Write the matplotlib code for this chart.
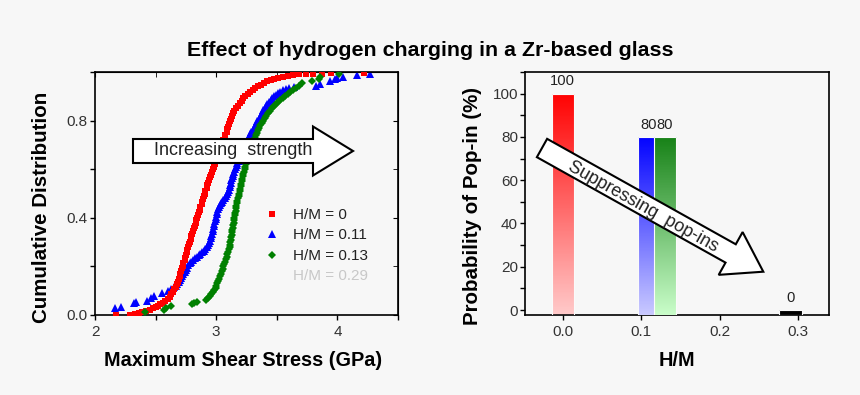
import matplotlib
matplotlib.use("Agg")
import matplotlib.pyplot as plt
import numpy as np
from matplotlib.lines import Line2D
from matplotlib.patches import FancyArrow
from matplotlib.ticker import MultipleLocator

plt.rcParams['font.family'] = ['Liberation Sans', 'DejaVu Sans']

# cumulative distributions: (stress GPa, cumulative fraction)
red_points = [
    (2.17, 0.0), (2.29, 0.0), (2.33, 0.004), (2.36, 0.008), (2.39, 0.012), (2.42, 0.016),
    (2.45, 0.021), (2.48, 0.027), (2.50, 0.032), (2.52, 0.038), (2.54, 0.044), (2.56, 0.051),
    (2.58, 0.059), (2.60, 0.067), (2.615, 0.076), (2.63, 0.085), (2.645, 0.095), (2.655, 0.105),
    (2.665, 0.115), (2.675, 0.126), (2.685, 0.137), (2.69, 0.148), (2.70, 0.159), (2.705, 0.170),
    (2.71, 0.181), (2.72, 0.192), (2.725, 0.203), (2.73, 0.214), (2.74, 0.225), (2.745, 0.236),
    (2.75, 0.247), (2.755, 0.258), (2.76, 0.269), (2.77, 0.280), (2.775, 0.291), (2.78, 0.302),
    (2.79, 0.313), (2.795, 0.324), (2.80, 0.335), (2.81, 0.346), (2.815, 0.357), (2.825, 0.368),
    (2.83, 0.379), (2.835, 0.390), (2.845, 0.401), (2.85, 0.412), (2.86, 0.423), (2.865, 0.434),
    (2.87, 0.445), (2.88, 0.456), (2.885, 0.467), (2.89, 0.478), (2.90, 0.489), (2.905, 0.500),
    (2.91, 0.511), (2.92, 0.522), (2.925, 0.533), (2.935, 0.544), (2.94, 0.555), (2.95, 0.566),
    (2.96, 0.577), (2.965, 0.588), (2.975, 0.599), (2.985, 0.610), (2.99, 0.621), (3.00, 0.632),
    (3.01, 0.643), (3.015, 0.654), (3.025, 0.665), (3.03, 0.676), (3.04, 0.687), (3.045, 0.698),
    (3.055, 0.709), (3.06, 0.720), (3.07, 0.731), (3.075, 0.742), (3.085, 0.753), (3.09, 0.764),
    (3.10, 0.775), (3.105, 0.786), (3.11, 0.797), (3.12, 0.808), (3.13, 0.819), (3.14, 0.830),
    (3.15, 0.841), (3.165, 0.852), (3.18, 0.862), (3.195, 0.872), (3.21, 0.882), (3.225, 0.891),
    (3.24, 0.900), (3.26, 0.909), (3.28, 0.918), (3.30, 0.926), (3.32, 0.934), (3.345, 0.941),
    (3.37, 0.948), (3.395, 0.955), (3.42, 0.961), (3.45, 0.967), (3.48, 0.972), (3.51, 0.977),
    (3.55, 0.981), (3.59, 0.985), (3.63, 0.988), (3.68, 0.990), (3.74, 0.991), (3.80, 0.992),
    (3.87, 0.993), (3.95, 0.994), (4.22, 0.996)]

blue_points = [
    (2.165, 0.027), (2.215, 0.034), (2.32, 0.048), (2.335, 0.055), (2.43, 0.059), (2.46, 0.068),
    (2.49, 0.080), (2.55, 0.092), (2.60, 0.100), (2.63, 0.108), (2.65, 0.114), (2.665, 0.121),
    (2.68, 0.129), (2.69, 0.137), (2.70, 0.145), (2.71, 0.153), (2.72, 0.161), (2.73, 0.169),
    (2.74, 0.177), (2.75, 0.186), (2.76, 0.195), (2.77, 0.204), (2.78, 0.212), (2.795, 0.219),
    (2.81, 0.226), (2.825, 0.233), (2.84, 0.240), (2.855, 0.246), (2.87, 0.252), (2.885, 0.258),
    (2.90, 0.265), (2.91, 0.272), (2.92, 0.280), (2.93, 0.288), (2.94, 0.297), (2.948, 0.306),
    (2.955, 0.315), (2.96, 0.325), (2.965, 0.335), (2.97, 0.345), (2.975, 0.355), (2.98, 0.365),
    (2.985, 0.375), (2.99, 0.385), (2.995, 0.395), (3.00, 0.405), (3.005, 0.415), (3.01, 0.425),
    (3.015, 0.435), (3.02, 0.444), (3.03, 0.452), (3.04, 0.460), (3.05, 0.467), (3.06, 0.474),
    (3.07, 0.481), (3.08, 0.489), (3.09, 0.497), (3.10, 0.506), (3.105, 0.516), (3.11, 0.527),
    (3.115, 0.536), (3.12, 0.545), (3.125, 0.554), (3.13, 0.563), (3.135, 0.572), (3.14, 0.581),
    (3.15, 0.590), (3.155, 0.599), (3.16, 0.608), (3.17, 0.617), (3.175, 0.626), (3.185, 0.635),
    (3.19, 0.644), (3.20, 0.653), (3.205, 0.662), (3.215, 0.671), (3.22, 0.680), (3.23, 0.689),
    (3.235, 0.698), (3.245, 0.707), (3.25, 0.716), (3.26, 0.725), (3.27, 0.734), (3.28, 0.743),
    (3.29, 0.752), (3.30, 0.761), (3.31, 0.770), (3.32, 0.779), (3.33, 0.788), (3.34, 0.797),
    (3.35, 0.806), (3.36, 0.815), (3.37, 0.824), (3.38, 0.833), (3.39, 0.842), (3.40, 0.851),
    (3.41, 0.860), (3.42, 0.868), (3.435, 0.876), (3.45, 0.884), (3.46, 0.892), (3.475, 0.900),
    (3.49, 0.907), (3.51, 0.913), (3.53, 0.919), (3.55, 0.925), (3.575, 0.930), (3.60, 0.935),
    (3.64, 0.940), (3.82, 0.944), (3.86, 0.950), (3.94, 0.962), (3.98, 0.971), (4.00, 0.977),
    (4.05, 0.980), (4.16, 0.986), (4.27, 0.991)]

green_points = [
    (2.41, 0.014), (2.57, 0.022), (2.585, 0.028), (2.63, 0.037), (2.80, 0.044), (2.82, 0.048),
    (2.84, 0.053), (2.915, 0.062), (2.93, 0.070), (2.945, 0.078), (2.96, 0.086), (2.975, 0.094),
    (2.985, 0.102), (2.995, 0.111), (3.00, 0.120), (3.008, 0.130), (3.015, 0.140), (3.022, 0.150),
    (3.03, 0.160), (3.038, 0.170), (3.045, 0.180), (3.052, 0.190), (3.06, 0.200), (3.067, 0.210),
    (3.073, 0.220), (3.08, 0.230), (3.087, 0.240), (3.093, 0.250), (3.10, 0.260), (3.105, 0.270),
    (3.11, 0.280), (3.113, 0.290), (3.117, 0.300), (3.12, 0.310), (3.123, 0.320), (3.127, 0.330),
    (3.13, 0.340), (3.133, 0.350), (3.137, 0.360), (3.14, 0.370), (3.143, 0.380), (3.147, 0.390),
    (3.15, 0.400), (3.153, 0.410), (3.157, 0.420), (3.16, 0.430), (3.163, 0.440), (3.167, 0.450),
    (3.17, 0.460), (3.175, 0.470), (3.18, 0.480), (3.185, 0.490), (3.19, 0.500), (3.195, 0.510),
    (3.20, 0.520), (3.203, 0.530), (3.207, 0.540), (3.21, 0.550), (3.215, 0.560), (3.22, 0.570),
    (3.225, 0.580), (3.23, 0.590), (3.235, 0.600), (3.24, 0.610), (3.245, 0.620), (3.25, 0.630),
    (3.255, 0.640), (3.26, 0.650), (3.265, 0.660), (3.27, 0.670), (3.278, 0.680), (3.285, 0.690),
    (3.293, 0.700), (3.30, 0.710), (3.31, 0.720), (3.318, 0.730), (3.327, 0.740), (3.335, 0.750),
    (3.345, 0.760), (3.355, 0.770), (3.365, 0.780), (3.375, 0.790), (3.39, 0.800), (3.40, 0.810),
    (3.415, 0.820), (3.43, 0.830), (3.445, 0.840), (3.46, 0.850), (3.475, 0.860), (3.49, 0.868),
    (3.51, 0.876), (3.53, 0.884), (3.55, 0.892), (3.57, 0.900), (3.59, 0.908), (3.61, 0.916),
    (3.635, 0.925), (3.66, 0.934), (3.685, 0.943), (3.71, 0.953), (3.79, 0.961), (3.85, 0.970),
    (3.86, 0.980), (4.01, 0.990)]

legend_labels = ['H/M = 0', 'H/M = 0.11', 'H/M = 0.13', 'H/M = 0.29']

# right panel: pop-in probability per hydrogen content
hm_values = [0.0, 0.11, 0.13, 0.29]
popin_prob = [100, 80, 80, 0]

BG = '#f7f7f7'
TXT = '#222222'
top_colors = [(1.0, 0.0, 0.0), (0.0, 0.0, 1.0), (0.08, 0.5, 0.08), (0.0, 0.0, 0.0)]
bottom_colors = [(1.0, 0.80, 0.80), (0.80, 0.80, 1.0), (0.80, 1.0, 0.80), (0.0, 0.0, 0.0)]

fig = plt.figure(figsize=(8.6, 3.95), dpi=100, facecolor=BG)
ax1 = fig.add_axes([95 / 860, 80 / 395, 303 / 860, 243 / 395], facecolor=BG)
ax2 = fig.add_axes([525 / 860, 80 / 395, 304 / 860, 243 / 395], facecolor=BG)

fig.text(0.5, (395 - 50) / 395, 'Effect of hydrogen charging in a Zr-based glass',
         ha='center', va='center', fontsize=15.4, fontweight='bold', color='black')

# ---- left panel
series = [(red_points, 's', 'red', 4.4, 3), (blue_points, '^', 'blue', 5.4, 2),
          (green_points, 'D', 'green', 4.2, 4)]
for pts, mk, col, ms, z in series:
    xs, ys = zip(*pts)
    ax1.plot(xs, ys, mk, color=col, ms=ms, mew=0, zorder=z)
ax1.set_xlim(2, 4.5)
ax1.set_ylim(0, 1.0)
ax1.set_xticks([2, 3, 4])
ax1.xaxis.set_minor_locator(MultipleLocator(0.5))
ax1.set_yticks([0.0, 0.4, 0.8])
ax1.yaxis.set_minor_locator(MultipleLocator(0.2))
ax1.set_yticklabels(['0.0', '0.4', '0.8'])
ax1.tick_params(which='both', direction='out', length=3.5, width=1, labelsize=11,
                labelcolor='#333333', top=False, right=False)
ax1.tick_params(axis='y', pad=2)
sec_top = ax1.secondary_xaxis('top')
sec_top.set_xticks([2, 3, 4])
sec_top.xaxis.set_minor_locator(MultipleLocator(0.5))
sec_top.tick_params(which='both', direction='in', length=3.5, labeltop=False)
sec_right = ax1.secondary_yaxis('right')
sec_right.set_yticks([0.0, 0.4, 0.8])
sec_right.yaxis.set_minor_locator(MultipleLocator(0.2))
sec_right.tick_params(which='both', direction='in', length=3.5, labelright=False)

ax1.set_xlabel('Maximum Shear Stress (GPa)', fontsize=14.3, fontweight='bold')
ax1.set_ylabel('Cumulative Distribution', fontsize=14.8, fontweight='bold')
ax1.xaxis.set_label_coords(0.49, -0.15)
ax1.yaxis.set_label_coords(-0.144, 0.442)

handles = [Line2D([], [], ls='none', marker='s', color='red', ms=4.5, mew=0),
           Line2D([], [], ls='none', marker='^', color='blue', ms=5.5, mew=0),
           Line2D([], [], ls='none', marker='D', color='green', ms=4.2, mew=0),
           Line2D([], [], ls='none', marker=None)]
leg = ax1.legend(handles, legend_labels, loc='upper left', bbox_to_anchor=(0.558, 0.44),
                 frameon=False, fontsize=11, handlelength=1.0, handletextpad=0.92,
                 labelspacing=0.42, borderpad=0, borderaxespad=0)
for t, c in zip(leg.get_texts(), [TXT, TXT, TXT, '#c8c8c8']):
    t.set_color(c)

# ---- right panel
base = -2.3
ax2.set_xlim(-0.048, 0.339)
ax2.set_ylim(base, 110)
bars = ax2.bar(hm_values, np.array(popin_prob) - base, bottom=base, width=0.0285,
               facecolor='none', edgecolor='#fafafa', linewidth=0.8)
grad = np.linspace(0, 1, 256)[:, None, None]
for i, (bar, c_top, c_bot) in enumerate(zip(bars, top_colors, bottom_colors)):
    x0, y0 = bar.get_x(), bar.get_y()
    w, h = bar.get_width(), bar.get_height()
    rgb = np.array(c_top)[None, None, :] + (np.array(c_bot) - np.array(c_top))[None, None, :] * grad
    im = ax2.imshow(rgb, extent=(x0 - 0.01, x0 + w + 0.01, y0 - 1, y0 + h + 1), origin='upper',
                    aspect='auto', zorder=2 + 2 * i, interpolation='nearest')
    im.set_clip_path(bar)
    bar.set_zorder(3 + 2 * i)
for x, v in zip(hm_values, popin_prob):
    ax2.annotate(f'{v}', (x, v), xytext=(0, 8.8), textcoords='offset points',
                 ha='center', va='center', fontsize=10.6, color=TXT)
ax2.set_xlim(-0.048, 0.339)
ax2.set_ylim(base, 110)
ax2.set_xticks([0.0, 0.1, 0.2, 0.3])
ax2.set_xticklabels(['0.0', '0.1', '0.2', '0.3'])
ax2.set_yticks([0, 20, 40, 60, 80, 100])
ax2.yaxis.set_minor_locator(MultipleLocator(10))
ax2.tick_params(which='both', direction='out', length=3.5, width=1, labelsize=11,
                labelcolor='#333333')
ax2.tick_params(axis='y', pad=1.5)
ax2.set_xlabel('H/M', fontsize=14.3, fontweight='bold')
ax2.set_ylabel('Probability of Pop-in (%)', fontsize=14.8, fontweight='bold')
ax2.xaxis.set_label_coords(0.499, -0.15)
ax2.yaxis.set_label_coords(-0.142, 0.449)

for ax in (ax1, ax2):
    for s in ax.spines.values():
        s.set_linewidth(1.2)

# ---- block arrows (figure inches)
arr1 = FancyArrow(1.33, 2.44, 2.20, 0, width=0.24, head_width=0.49, head_length=0.40,
                  length_includes_head=True, transform=fig.dpi_scale_trans,
                  facecolor='white', edgecolor='black', lw=1.5, zorder=10)
fig.add_artist(arr1)
fig.text(2.33, 2.443, 'Increasing  strength', transform=fig.dpi_scale_trans,
         ha='center', va='center', fontsize=13, color=TXT, zorder=11)

arr2 = FancyArrow(5.42, 2.47, 2.213, -1.237, width=0.21, head_width=0.49, head_length=0.374,
                  length_includes_head=True, transform=fig.dpi_scale_trans,
                  facecolor='white', edgecolor='black', lw=1.5, zorder=10)
fig.add_artist(arr2)
fig.text(6.433, 1.883, 'Suppressing  pop-ins', transform=fig.dpi_scale_trans,
         ha='center', va='center', rotation=-29.2, rotation_mode='anchor',
         fontsize=13, color=TXT, zorder=11)

fig.savefig('out.png', dpi=100, facecolor=BG)
